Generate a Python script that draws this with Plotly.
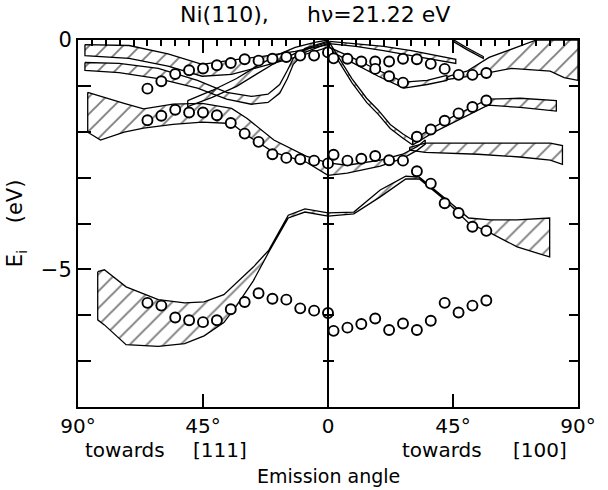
import plotly.graph_objects as go

# ---------------- measured points (emission angle in deg, E_i in eV) -------------
# negative angles: towards [111]; positive angles: towards [100]
top_ang = [-65, -60, -55, -50, -45, -40, -35, -30, -25, -20, -15, -10, -5, 0,
           2, 7, 12, 17, 22, 27, 32, 37, 42, 47, 52, 57]
top_E = [-1.06, -0.90, -0.74, -0.66, -0.62, -0.55, -0.50, -0.42, -0.45, -0.41, -0.37, -0.34, -0.34, -0.27,
         -0.40, -0.41, -0.47, -0.47, -0.47, -0.41, -0.42, -0.52, -0.63, -0.76, -0.76, -0.72]
top2_ang = [17, 22, 27]
top2_E = [-0.63, -0.79, -0.93]

mid_ang = [-65, -60, -55, -50, -45, -40, -35, -30, -25, -20, -15, -10, -5, 0,
           2, 7, 12, 17, 22, 27]
mid_E = [-1.75, -1.65, -1.52, -1.58, -1.58, -1.64, -1.81, -2.04, -2.22, -2.49, -2.57, -2.60, -2.63, -2.69,
         -2.50, -2.63, -2.59, -2.53, -2.62, -2.63]
up_ang = [32, 37, 42, 47, 52, 57]
up_E = [-2.11, -1.95, -1.76, -1.60, -1.46, -1.32]
dn_ang = [32, 37, 42, 47, 52, 57]
dn_E = [-2.86, -3.13, -3.56, -3.77, -4.07, -4.16]

low_ang = [-65, -60, -55, -50, -45, -40, -35, -30, -25, -20, -15, -10, -5, 0,
           2, 7, 12, 17, 22, 27, 32, 37, 42, 47, 52, 57]
low_E = [-5.73, -5.79, -6.05, -6.11, -6.15, -6.11, -5.87, -5.71, -5.52, -5.64, -5.66, -5.85, -5.90, -5.95,
         -6.34, -6.27, -6.19, -6.07, -6.32, -6.18, -6.32, -6.12, -5.73, -5.94, -5.79, -5.68]

# ---------------- calculated bands (angle, upper edge, lower edge) ----------------
bandT1_ang = [-87.5, -71.6, -57.6, -45.3, -34.7, -24.1, -11.8, 0]
bandT1_up = [-0.10, -0.12, -0.30, -0.53, -0.44, -0.36, -0.25, -0.10]
bandT1_lo = [-0.34, -0.40, -0.57, -0.79, -0.75, -0.58, -0.38, -0.16]

bandT2_ang = [-87.5, -75.2, -61.1, -47.0, -36.5, -27.6, -21.6, -17.4, -14.6, -12.5, -8.3, -0.2]
bandT2_up = [-0.49, -0.51, -0.62, -0.88, -1.14, -1.23, -1.18, -0.97, -0.66, -0.40, -0.18, -0.03]
bandT2_lo = [-0.66, -0.71, -0.84, -1.05, -1.29, -1.40, -1.36, -1.16, -0.84, -0.53, -0.27, -0.08]

bandD_ang = [-50.5, -41.7, -32.9, -25.9, -18.8, -11.8, -4.8, 0]
bandD_up = [-1.32, -1.10, -0.84, -0.58, -0.34, -0.16, -0.05, 0.0]
bandD_lo = [-1.45, -1.25, -1.01, -0.75, -0.49, -0.29, -0.14, -0.05]

bandM_ang = [-86.5, -81.9, -73.4, -66.4, -55.8, -45.3, -34.7, -29.1, -19.5, -7.9, 0, 6.9, 18.8, 26.9, 32.2, 35.0]
bandM_up = [-1.14, -1.23, -1.38, -1.50, -1.40, -1.38, -1.49, -1.71, -2.18, -2.53, -2.68, -2.73, -2.62, -2.49, -2.32, -2.18]
bandM_lo = [-2.01, -2.18, -2.01, -1.92, -1.84, -1.79, -1.82, -2.08, -2.45, -2.66, -2.95, -2.90, -2.75, -2.58, -2.40, -2.27]

bandR0_ang = [0.5, 10.0, 20.0, 30.0, 40.0, 46.0]
bandR0_up = [-0.03, -0.08, -0.14, -0.23, -0.34, -0.42]
bandR0_lo = [-0.08, -0.14, -0.23, -0.34, -0.45, -0.51]

bandR1_ang = [43, 50, 58, 66, 75, 80, 85, 90]
bandR1_up = [-0.80, -0.68, -0.38, -0.20, 0.0, 0.0, 0.0, 0.0]
bandR1_lo = [-0.86, -0.80, -0.71, -0.62, -0.66, -0.68, -0.82, -0.88]

bandR1b_ang = [45.3, 50.0, 55.9]
bandR1b_up = [0.0, -0.17, -0.36]
bandR1b_lo = [-0.04, -0.21, -0.40]

bandR2_ang = [0.5, 9.3, 18.1, 27.3, 35.7, 42.8]
bandR2_up = [-0.16, -0.40, -0.66, -0.92, -0.88, -0.77]
bandR2_lo = [-0.23, -0.51, -0.79, -1.05, -0.97, -0.88]

bandR3_ang = [0.5, 4.0, 8.6, 13.9, 18.1, 22.4, 27.0, 30.5]
bandR3_up = [-0.05, -0.38, -0.84, -1.27, -1.53, -1.84, -2.05, -2.18]
bandR3_lo = [-0.14, -0.47, -0.93, -1.36, -1.62, -1.93, -2.14, -2.29]

bandR4_ang = [30.5, 37.5, 44.6, 51.6, 57.6, 69.2, 82.2]
bandR4_up = [-2.18, -1.92, -1.68, -1.47, -1.29, -1.27, -1.32]
bandR4_lo = [-2.29, -2.03, -1.82, -1.60, -1.42, -1.47, -1.55]

bandR5_ang = [29.4, 35.0, 54.0, 69.0, 80.0, 84.4]
bandR5_up = [-2.34, -2.25, -2.25, -2.25, -2.25, -2.30]
bandR5_lo = [-2.40, -2.45, -2.49, -2.55, -2.62, -2.71]

bandB_ang = [-82.9, -80.5, -72.7, -61.1, -51.6, -44.6, -37.5, -32.9, -26.9, -21.3, -14.3, -8.3, 0,
             9.3, 18.8, 28.0, 32.9, 42.1, 50.6, 58.6, 68.1, 79.8]
bandB_up = [-5.05, -5.01, -5.38, -5.66, -5.73, -5.71, -5.55, -5.29, -4.95, -4.58, -3.82, -3.68, -3.77,
            -3.75, -3.27, -2.97, -2.99, -3.45, -3.88, -3.92, -3.92, -3.88]
bandB_lo = [-6.10, -6.21, -6.64, -6.68, -6.62, -6.45, -6.16, -5.79, -5.25, -4.62, -3.88, -3.75, -3.84,
            -3.79, -3.42, -3.03, -3.03, -3.49, -3.99, -4.21, -4.51, -4.73]

bands = [
    (bandT1_ang, bandT1_up, bandT1_lo),
    (bandT2_ang, bandT2_up, bandT2_lo),
    (bandD_ang, bandD_up, bandD_lo),
    (bandM_ang, bandM_up, bandM_lo),
    (bandR0_ang, bandR0_up, bandR0_lo),
    (bandR1_ang, bandR1_up, bandR1_lo),
    (bandR1b_ang, bandR1b_up, bandR1b_lo),
    (bandR2_ang, bandR2_up, bandR2_lo),
    (bandR3_ang, bandR3_up, bandR3_lo),
    (bandR4_ang, bandR4_up, bandR4_lo),
    (bandR5_ang, bandR5_up, bandR5_lo),
    (bandB_ang, bandB_up, bandB_lo),
]

x_tickvals = [-90, -45, 0, 45, 90]
x_ticktext = ["90°", "45°", "0", "45°", "90°"]
y_labelvals = [-5, 0]
y_labeltext = ["−5", "0"]
y_minorvals = [-7, -6, -4, -3, -2, -1]

FONT = "DejaVu Sans"
fig = go.Figure()

for ang, up, lo in bands:
    xs = list(ang) + list(ang)[::-1] + [ang[0]]
    ys = list(up) + list(lo)[::-1] + [up[0]]
    fig.add_trace(go.Scatter(
        x=xs, y=ys, mode="lines", fill="toself",
        fillcolor="rgba(0,0,0,0)",
        fillpattern=dict(shape="/", fgcolor="black", bgcolor="rgba(0,0,0,0)", size=12, solidity=0.16),
        line=dict(color="black", width=1.3),
        hoverinfo="skip", showlegend=False))

for xa, ya in [(top_ang, top_E), (top2_ang, top2_E), (mid_ang, mid_E), (up_ang, up_E),
               (dn_ang, dn_E), (low_ang, low_E)]:
    fig.add_trace(go.Scatter(
        x=xa, y=ya, mode="markers",
        marker=dict(symbol="circle", size=10, color="white",
                    line=dict(color="black", width=1.9)),
        showlegend=False, hoverinfo="skip"))

# centre (normal emission) line
fig.add_shape(type="line", x0=0, x1=0, y0=-8, y1=0, xref="x", yref="y",
              line=dict(color="black", width=2))

ax_common = dict(showgrid=False, zeroline=False, color="black")
all_y = [-7, -6, -5, -4, -3, -2, -1]
fig.update_layout(
    width=608, height=490,
    margin=dict(l=78, r=19, t=40, b=83),
    paper_bgcolor="white", plot_bgcolor="white",
    font=dict(family=FONT, size=20, color="black"),
    xaxis=dict(range=[-90, 90], showline=True, linewidth=2, linecolor="black", mirror=True,
               ticks="inside", ticklen=13, tickwidth=2, tickcolor="black",
               tickvals=x_tickvals, ticktext=x_ticktext,
               tickfont=dict(size=20), **ax_common),
    xaxis2=dict(range=[-90, 90], overlaying="x", side="top", anchor="y", showline=False,
                ticks="inside", ticklen=13, tickwidth=2, tickcolor="black",
                tickvals=[-45, 45], showticklabels=False,
                minor=dict(ticks="inside", ticklen=6, tickwidth=1.5, tickcolor="black",
                           tickvals=[v for v in range(-85, 90, 5) if v % 45 != 0]),
                **ax_common),
    yaxis=dict(range=[-8, 0], showline=True, linewidth=2, linecolor="black", mirror=True,
               ticks="inside", ticklen=13, tickwidth=2, tickcolor="black",
               tickvals=y_labelvals, ticktext=y_labeltext,
               minor=dict(ticks="inside", ticklen=13, tickwidth=2, tickcolor="black",
                          tickvals=y_minorvals),
               tickfont=dict(size=21),
               title=dict(text="E<sub>i</sub>    (eV)", font=dict(size=21), standoff=12),
               **ax_common),
    yaxis2=dict(range=[-8, 0], overlaying="y", side="right", anchor="x", showline=False,
                ticks="inside", ticklen=9, tickwidth=2, tickcolor="black",
                tickvals=all_y, showticklabels=False, **ax_common),
    yaxis3=dict(range=[-8, 0], overlaying="y", side="left", anchor="free", position=0.5,
                showline=False, ticks="outside", ticklen=5, tickwidth=2, tickcolor="black",
                tickvals=all_y, showticklabels=False, **ax_common),
    yaxis4=dict(range=[-8, 0], overlaying="y", side="right", anchor="free", position=0.5,
                showline=False, ticks="outside", ticklen=5, tickwidth=2, tickcolor="black",
                tickvals=all_y, showticklabels=False, **ax_common),
)
# invisible traces to activate the extra axes
for xa, ya in [("x2", "y"), ("x", "y2"), ("x", "y3"), ("x", "y4")]:
    fig.add_trace(go.Scatter(x=[0], y=[-8], xaxis=xa, yaxis=ya, mode="markers",
                             marker=dict(opacity=0), showlegend=False, hoverinfo="skip"))

ann = [
    dict(text="Ni(110),", x=-37.2, yshift=26, size=22),
    dict(text="hν=21.22 eV", x=18.1, yshift=26, size=22),
]
for a in ann:
    fig.add_annotation(text=a["text"], x=a["x"], xref="x", y=1.0, yref="paper",
                       yanchor="middle", yshift=a["yshift"], showarrow=False,
                       font=dict(family=FONT, size=a["size"], color="black"))
ann_b = [
    dict(text="towards", x=-73.1, yshift=-43, size=20),
    dict(text="[111]", x=-38.9, yshift=-43, size=20),
    dict(text="towards", x=41.0, yshift=-43, size=20),
    dict(text="[100]", x=76.3, yshift=-43, size=20),
    dict(text="Emission angle", x=0, yshift=-69, size=19),
]
for a in ann_b:
    fig.add_annotation(text=a["text"], x=a["x"], xref="x", y=0, yref="paper",
                       yanchor="middle", yshift=a["yshift"], showarrow=False,
                       font=dict(family=FONT, size=a["size"], color="black"))

fig.write_html("out.html")
